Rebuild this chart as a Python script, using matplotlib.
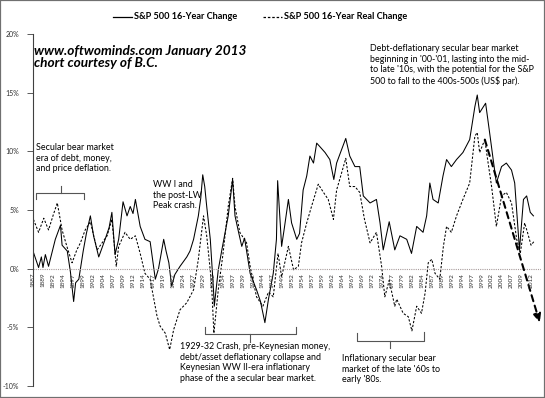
import matplotlib
matplotlib.use("Agg")
import matplotlib.pyplot as plt
from matplotlib.lines import Line2D
from matplotlib.patches import Rectangle

plt.rcParams['font.family'] = ['Lato', 'DejaVu Sans']

# ---- data ----
nominal_years = [1887.0, 1888.3, 1889.0, 1889.4, 1890.0, 1890.8, 1892.5, 1893.8, 1894.2, 1895.5,
                 1896.3, 1897.1, 1897.6, 1898.4, 1899.5, 1900.3, 1901.3, 1902.1, 1903.4, 1905.0,
                 1906.0, 1906.7, 1907.5, 1908.4, 1909.5, 1910.5, 1911.3, 1912.0, 1912.6, 1913.8,
                 1915.0, 1916.3, 1917.6, 1918.4, 1919.7, 1920.3, 1921.0, 1921.7, 1922.5, 1923.8,
                 1925.5, 1926.3, 1927.2, 1928.4, 1929.0, 1929.5, 1930.0, 1930.5, 1931.4, 1932.2,
                 1932.4, 1933.4, 1934.3, 1935.9, 1937.0, 1937.6, 1938.5, 1939.3, 1940.0, 1941.4,
                 1943.0, 1944.0, 1945.1, 1946.0, 1947.2, 1948.0, 1948.3, 1949.3, 1950.0, 1951.0,
                 1951.8, 1953.1, 1953.8, 1954.7, 1955.6, 1956.4, 1957.3, 1958.1, 1958.9, 1960.2,
                 1961.4, 1962.4, 1963.1, 1964.3, 1965.4, 1966.4, 1967.7, 1968.9, 1969.8, 1971.5,
                 1973.1, 1974.0, 1974.8, 1976.3, 1977.7, 1979.0, 1980.7, 1981.9, 1983.2, 1984.8,
                 1985.7, 1986.5, 1987.3, 1988.6, 1989.8, 1990.7, 1991.9, 1993.2, 1994.8, 1996.5,
                 1997.8, 1998.4, 1999.0, 2000.5, 2001.5, 2002.4, 2003.2, 2004.5, 2005.7, 2007.0,
                 2007.8, 2009.0, 2010.0, 2010.8, 2011.7, 2012.5]
nominal_change = [1.4, 0.1, 1.0, 0.1, 1.2, 0.2, 2.5, 3.7, 2.0, 1.5,
                  -0.3, -2.8, -1.2, -0.9, 1.5, 3.0, 4.5, 2.8, 1.0, 2.5,
                  3.5, 4.8, 1.2, 2.5, 5.7, 4.5, 5.3, 4.7, 5.9, 3.6,
                  2.5, 2.3, -0.9, 0.0, 2.5, 1.5, 0.5, -1.5, -0.5, 0.2,
                  1.0, 1.5, 2.5, 4.5, 6.0, 8.0, 7.0, 5.3, 2.5, -1.8,
                  -3.2, -0.1, 1.6, 4.5, 7.6, 4.5, 3.1, 1.9, 2.6, -0.4,
                  -1.8, -2.8, -4.6, -2.6, -0.4, 2.5, 7.5, 1.9, 3.5, 5.9,
                  3.9, 2.5, 3.0, 6.7, 7.9, 9.6, 9.0, 10.7, 10.4, 9.9,
                  9.3, 7.6, 9.0, 10.1, 11.1, 9.6, 8.7, 8.7, 6.2, 5.6,
                  5.9, 3.9, 1.6, 4.0, 1.6, 2.8, 2.5, 1.3, 3.6, 3.1,
                  4.5, 7.3, 5.9, 5.6, 7.9, 9.3, 8.7, 9.3, 9.9, 11.0,
                  13.8, 14.8, 13.3, 14.1, 11.6, 9.3, 7.3, 8.7, 9.0, 8.4,
                  7.3, 1.6, 5.9, 6.2, 4.8, 4.5]

real_years = [1887.0, 1888.3, 1889.6, 1890.8, 1892.0, 1893.0, 1894.2, 1895.4, 1896.7, 1897.9,
              1898.8, 1900.0, 1901.3, 1903.0, 1905.5, 1906.7, 1907.8, 1908.4, 1910.0, 1911.3,
              1912.6, 1913.8, 1915.0, 1916.3, 1918.0, 1918.8, 1920.1, 1921.2, 1922.2, 1923.8,
              1925.5, 1927.2, 1928.4, 1929.7, 1930.5, 1931.7, 1932.3, 1933.4, 1934.6, 1935.9,
              1937.0, 1937.6, 1938.8, 1940.5, 1941.4, 1943.0, 1944.6, 1946.0, 1947.2, 1948.4,
              1949.3, 1951.0, 1952.3, 1953.5, 1954.3, 1955.6, 1956.8, 1958.5, 1959.8, 1961.0,
              1962.3, 1963.1, 1964.3, 1965.4, 1966.4, 1967.7, 1968.9, 1970.1, 1971.5, 1973.1,
              1974.4, 1975.2, 1976.3, 1977.7, 1978.2, 1979.8, 1981.1, 1982.0, 1983.2, 1984.4,
              1985.3, 1986.1, 1987.0, 1987.8, 1989.0, 1989.9, 1990.7, 1991.9, 1993.2, 1994.8,
              1996.5, 1997.8, 1998.4, 1999.0, 2000.3, 2001.0, 2002.0, 2003.2, 2004.5, 2005.7,
              2007.0, 2008.3, 2009.2, 2010.3, 2011.0, 2011.9, 2012.6]
real_change = [4.2, 3.1, 4.3, 3.3, 4.6, 5.6, 3.3, 1.9, 0.5, 1.6,
               2.2, 3.3, 4.0, 1.6, 2.8, 4.2, 0.2, 1.9, 3.1, 2.5,
               2.8, 1.3, -0.4, -0.9, -4.0, -4.9, -5.5, -6.9, -5.2, -3.5,
               -2.9, -1.8, 0.8, 4.5, 2.8, -1.2, -5.5, -1.8, 1.3, 5.3,
               7.7, 5.3, 3.1, 2.2, 0.2, -2.4, -3.2, -2.0, -2.4, 1.3,
               -0.7, 1.9, -0.1, 0.2, 2.2, 3.9, 5.3, 7.2, 6.5, 5.9,
               4.2, 6.7, 8.1, 9.4, 7.0, 7.0, 6.5, 4.2, 2.2, 3.1,
               0.2, -2.4, -1.0, -3.2, -2.6, -3.8, -4.1, -5.3, -3.2, -3.8,
               -2.1, 0.5, 0.8, -0.4, -0.9, 1.9, 3.6, 3.1, 4.5, 5.9,
               7.3, 11.3, 11.6, 9.9, 11.0, 9.3, 7.0, 3.6, 6.2, 6.5,
               5.6, 2.5, 1.3, 3.9, 3.1, 2.0, 2.3]

projection_years = [2000.3, 2014.1]
projection_change = [11.0, -4.6]

tick_years = [1887 + 2.5 * k for k in range(51)]
tick_labels = [str(int(y)) for y in tick_years]
y_ticks = [-10, -5, 0, 5, 10, 15, 20]
y_tick_labels = ['-10%', '-5%', '0%', '5%', '10%', '15%', '20%']

legend_labels = ['S&P 500 16-Year Change', 'S&P 500 16-Year Real Change']

# ---- figure ----
W, H = 545, 398
fig = plt.figure(figsize=(W / 100, H / 100), dpi=100)
fig.patch.set_facecolor('white')

def fx(px):
    return px / W

def fy(py):
    return 1 - py / H

ax = fig.add_axes([fx(33), fy(386), fx(541) - fx(33), fy(34) - fy(386)])
ax.set_xlim(1886.9, 2014.4)
ax.set_ylim(-10, 20)

ax.plot(nominal_years, nominal_change, color='black', lw=0.75)
ax.plot(real_years, real_change, color='black', lw=0.75, ls=(0, (2.2, 1.6)))
ax.annotate('', xy=(projection_years[1], projection_change[1]),
            xytext=(projection_years[0], projection_change[0]),
            arrowprops=dict(arrowstyle='-|>,head_length=0.5,head_width=0.22', color='black',
                            lw=1.5, ls=(0, (3, 2.2)), shrinkA=0, shrinkB=0))

ax.axhline(0, color='#a89c9c', lw=0.8, ls=(0, (1, 1)))

for sp in ['top', 'right', 'bottom']:
    ax.spines[sp].set_visible(False)
ax.spines['left'].set_color('#404040')
ax.spines['left'].set_linewidth(0.8)
ax.set_xticks([])
ax.set_yticks(y_ticks)
ax.set_yticklabels(y_tick_labels, fontsize=5, color='#303030')
ax.tick_params(axis='y', length=4, width=0.6, color='#404040', pad=6)

for yr, lab in zip(tick_years, tick_labels):
    ax.text(yr, -0.35, lab, rotation=90, ha='center', va='top', fontsize=4.6,
            color='#303030')

# legend (manual)
fig.add_artist(Line2D([fx(113), fx(132)], [fy(16.5), fy(16.5)], color='black', lw=0.9))
fig.text(fx(134), fy(16.5), legend_labels[0], ha='left', va='center', fontsize=6.6,
         fontweight='bold')
fig.add_artist(Line2D([fx(263), fx(282)], [fy(16.5), fy(16.5)], color='black', lw=0.9,
                      ls=(0, (2, 1.5))))
fig.text(fx(284), fy(16.5), legend_labels[1], ha='left', va='center', fontsize=6.6,
         fontweight='bold')

# title
fig.text(fx(34), fy(45), 'www.oftwominds.com January 2013\nchort courtesy of B.C.',
         ha='left', va='top', fontsize=9.8, fontweight='bold', style='italic',
         linespacing=1.0)

ann_fs = 6.4
fig.text(fx(370), fy(44), "Debt-deflationary secular bear market\n"
         "beginning in '00-'01, lasting into the mid-\n"
         "to late '10s, with the potential for the S&P\n"
         "500 to fall to the 400s-500s (US$ par).",
         ha='left', va='top', fontsize=ann_fs, linespacing=1.22)
fig.text(fx(36.5), fy(143), "Secular bear market\nera of debt, money,\nand price deflation.",
         ha='left', va='top', fontsize=ann_fs, linespacing=1.22)
fig.text(fx(153), fy(180), "WW I and\nthe post-LW\nPeak crash.",
         ha='left', va='top', fontsize=ann_fs, linespacing=1.22)
fig.text(fx(180), fy(342), "1929-32 Crash, pre-Keynesian money,\n"
         "debt/asset deflationary collapse and\n"
         "Keynesian WW II-era inflationary\n"
         "phase of the a secular bear market.",
         ha='left', va='top', fontsize=ann_fs, linespacing=1.22)
fig.text(fx(342), fy(354), "Inflationary secular bear\nmarket of the late '60s to\nearly '80s.",
         ha='left', va='top', fontsize=ann_fs, linespacing=1.22)

def bracket(pts, color='#555555'):
    xs = [fx(p[0]) for p in pts]
    ys = [fy(p[1]) for p in pts]
    fig.add_artist(Line2D(xs, ys, color=color, lw=0.8))

# bracket above the left section (tip up)
bracket([(36, 199), (36, 193), (84, 193), (84, 199)])
bracket([(60.7, 193), (60.7, 186)])
# 1929-32 bracket (tip down)
bracket([(205, 327), (205, 334), (296, 334), (296, 327)])
bracket([(250, 334), (250, 342)])
# inflationary bracket (tip down)
bracket([(356.5, 333), (356.5, 341), (424, 341), (424, 332)])
bracket([(390, 341), (390, 348)])

# frame around the figure
fig.add_artist(Rectangle((0, 0), 1, 1, transform=fig.transFigure, fill=False,
                         edgecolor='#707070', lw=1.6))

fig.savefig('out.png', dpi=100)
